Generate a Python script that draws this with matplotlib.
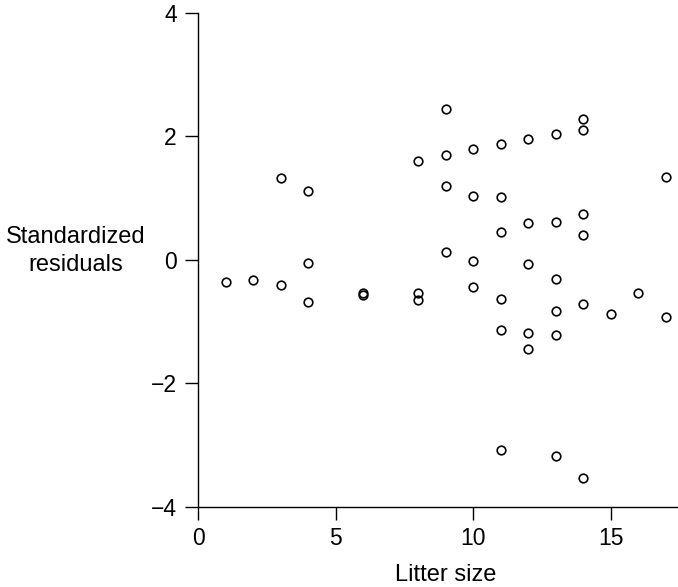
import numpy as np
import matplotlib
matplotlib.use('Agg')
import matplotlib.pyplot as plt

plt.rcParams['font.family'] = ['Liberation Sans', 'DejaVu Sans']

# Litter size vs. standardized residuals
litter_size = [1, 2, 3, 3, 4, 4, 4, 6, 6, 8, 8, 8,
               9, 9, 9, 9,
               10, 10, 10, 10,
               11, 11, 11, 11, 11, 11,
               12, 12, 12, 12, 12,
               13, 13, 13, 13, 13, 13,
               14, 14, 14, 14, 14, 14,
               15, 16, 17, 17]
residuals = [-0.35, -0.33, 1.32, -0.40, 1.12, -0.05, -0.68, -0.53, -0.56, 1.60, -0.53, -0.65,
             2.45, 1.70, 1.19, 0.13,
             1.79, 1.04, -0.02, -0.44,
             1.88, 1.02, 0.46, -0.63, -1.13, -3.07,
             1.96, 0.60, -0.07, -1.18, -1.44,
             2.04, 0.62, -0.30, -0.82, -1.21, -3.17,
             2.29, 2.11, 0.75, 0.40, -0.71, -3.53,
             -0.88, -0.53, 1.34, -0.93]

xticks = [0, 5, 10, 15]
yticks = [-4, -2, 0, 2, 4]

fig = plt.figure(figsize=(6.78, 5.87), dpi=100)
ax = fig.add_axes([0.2925, 0.1363, 0.7075, 0.8416])

ax.plot(litter_size, residuals, 'o', markersize=6.2, markerfacecolor='none',
        markeredgecolor='black', markeredgewidth=1.2, clip_on=False)

ax.set_xlim(0, 17.44)
ax.set_ylim(-4, 4)
ax.set_xticks(xticks)
ax.set_yticks(yticks)

for side in ['top', 'right']:
    ax.spines[side].set_visible(False)
for side in ['left', 'bottom']:
    ax.spines[side].set_linewidth(1.0)

ax.tick_params(direction='out', length=9.5, width=1.0, labelsize=16.5, colors='black')
ax.tick_params(axis='y', pad=6)
ax.tick_params(axis='x', pad=5)

fig.text(446 / 678, 1 - 575 / 587, 'Litter size', ha='center', va='center', fontsize=17)
fig.text(76 / 678, 1 - 251 / 587, 'Standardized\nresiduals', ha='center', va='center',
         multialignment='center', fontsize=17, linespacing=1.3)

fig.savefig('out.png', dpi=100)
